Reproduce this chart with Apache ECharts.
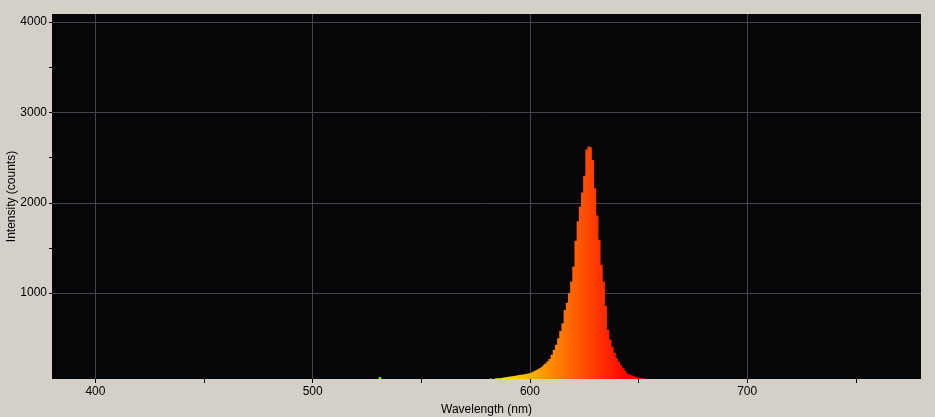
<!DOCTYPE html>
<html>
<head>
<meta charset="utf-8">
<script src="https://cdn.jsdelivr.net/npm/echarts@6/dist/echarts.min.js"></script>
<style>
html,body{margin:0;padding:0;background:#d4d0c8;}
#chart{width:935px;height:417px;}
</style>
</head>
<body>
<div id="chart"></div>
<script>
// Wavelength samples (nm) and measured intensity (counts)
var wavelengths = [380, 525, 529, 530, 531, 532, 536, 575,
  580,581,582,583,584,585,586,587,588,589,590,591,592,593,594,595,596,597,598,599,
  600,601,602,603,604,605,606,607,608,609,610,611,612,613,614,615,616,617,618,619,
  620,621,622,623,624,625,626,627,628,629,630,631,632,633,634,635,636,637,638,639,
  640,641,642,643,644,645,646,647,648,649,650,651,652,653,660,780];
var intensity = [20, 20, 20, 30, 72, 30, 20, 20,
  30,40,58,45,56,58,59,62,66,70,74,77,81,85,89,93,97,101,105,110,
  115,126,138,151,164,178,195,218,244,272,318,370,428,500,582,668,815,895,1000,1130,
  1295,1580,1795,1960,2115,2300,2590,2624,2610,2475,2160,1860,1590,1315,1130,860,594,488,410,340,
  280,240,205,170,140,108,95,85,76,70,62,57,55,40,20,20];

var xLabelValues = [400, 500, 600, 700];
var xTickValues = [400, 450, 500, 550, 600, 650, 700, 750];
var yLabelValues = [1000, 2000, 3000, 4000];
var yMinorTickValues = [1500, 2500, 3500];

// Visible-spectrum colour for a wavelength (styling only)
function spectrumColor(l) {
  var r = 0, g = 0, b = 0;
  if (l < 440) { r = (440 - l) / 60; b = 1; }
  else if (l < 490) { g = (l - 440) / 50; b = 1; }
  else if (l < 510) { g = 1; b = (510 - l) / 20; }
  else if (l < 580) { r = (l - 510) / 70; g = 1; }
  else if (l < 645) { r = 1; g = (645 - l) / 65; }
  else { r = 1; }
  function h(v) { var s = Math.round(Math.max(0, Math.min(1, v)) * 255).toString(16); return s.length < 2 ? '0' + s : s; }
  return '#' + h(r) + h(g) + h(b);
}
var spectrumColors = [];
for (var w = 380; w <= 780; w += 5) spectrumColors.push(spectrumColor(w));

var seriesData = wavelengths.map(function (w, i) { return [w, intensity[i]]; });

var font = {fontFamily: 'Liberation Sans', fontSize: 12, color: '#000'};
var plain = function (v) { return String(v); };
var chart = echarts.init(document.getElementById('chart'), null, {renderer: 'canvas'});
chart.setOption({
  animation: false,
  backgroundColor: '#d4d0c8',
  grid: {left: 52, right: 14, top: 14, bottom: 38, show: true, backgroundColor: '#060508', borderWidth: 0,
         containLabel: false, outerBoundsMode: 'none'},
  visualMap: {
    type: 'continuous', show: false, dimension: 0, seriesIndex: 0,
    min: 380, max: 780, inRange: {color: spectrumColors}
  },
  xAxis: [{
    type: 'value', min: 380, max: 780, position: 'bottom',
    name: 'Wavelength (nm)', nameLocation: 'middle', nameGap: 25, nameMoveOverlap: false,
    nameTextStyle: font,
    axisLine: {show: false},
    axisTick: {show: true, inside: false, length: 4, customValues: xLabelValues, lineStyle: {color: '#000'}},
    axisLabel: {show: true, customValues: xLabelValues, formatter: plain, margin: 7, fontFamily: font.fontFamily, fontSize: 12, color: '#000'},
    splitLine: {show: true, lineStyle: {color: '#46464a', width: 1}}
  }, {
    type: 'value', min: 380, max: 780, position: 'bottom',
    axisLine: {show: false},
    axisTick: {show: true, inside: false, length: 4, customValues: xTickValues, lineStyle: {color: '#000'}},
    axisLabel: {show: false},
    splitLine: {show: false}
  }],
  yAxis: [{
    type: 'value', min: 50, max: 4090, position: 'left',
    name: 'Intensity (counts)', nameLocation: 'middle', nameGap: 34, nameMoveOverlap: false,
    nameTextStyle: font,
    axisLine: {show: false},
    axisTick: {show: true, inside: false, length: 3, customValues: yLabelValues, lineStyle: {color: '#000'}},
    axisLabel: {show: true, customValues: yLabelValues, formatter: plain, margin: 5, fontFamily: font.fontFamily, fontSize: 12, color: '#000'},
    splitLine: {show: true, lineStyle: {color: '#46464a', width: 1}}
  }, {
    type: 'value', min: 50, max: 4090, position: 'left',
    axisLine: {show: false},
    axisTick: {show: true, inside: false, length: 3, customValues: yMinorTickValues, lineStyle: {color: '#000'}},
    axisLabel: {show: false},
    splitLine: {show: false}
  }],
  series: [{
    type: 'line', xAxisIndex: 0, yAxisIndex: 0,
    data: seriesData, step: 'middle', showSymbol: false, symbol: 'none',
    lineStyle: {width: 0},
    areaStyle: {opacity: 1},
    clip: true
  }]
});
</script>
</body>
</html>
